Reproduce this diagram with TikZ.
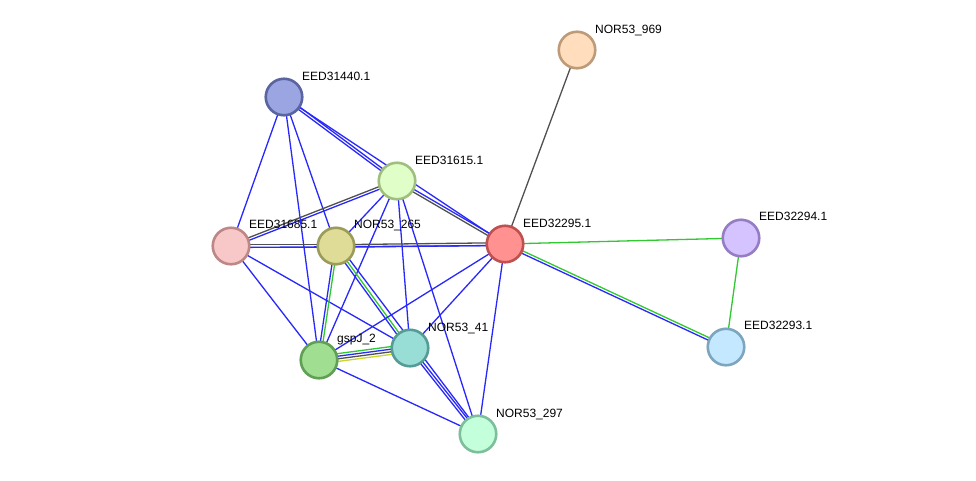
\documentclass[tikz,border=0pt]{standalone}
\usepackage{fontspec}
\setmainfont{Liberation Sans}
\usetikzlibrary{calc,backgrounds}
\definecolor{eblue}{RGB}{40,40,250}
\definecolor{egray}{RGB}{80,80,80}
\definecolor{egreen}{RGB}{50,200,50}
\definecolor{eyellow}{RGB}{200,215,40}
\newcommand{\lnk}[4]{\draw[#4] ($(#1)!#3!90:(#2)$) -- ($(#2)!#3!-90:(#1)$);}
\tikzset{
  prot/.style={circle, minimum size=36.5pt, inner sep=0pt, line width=2.6pt},
  lbl/.style={anchor=base west, inner sep=0pt, font=\fontsize{12}{14}\selectfont},
  bl/.style={eblue, line width=1.3pt},
  gr/.style={egray, line width=1.3pt},
  gn/.style={egreen, line width=1.3pt},
  yl/.style={eyellow, line width=1.3pt},
}
\begin{document}
\begin{tikzpicture}[x=1pt,y=-1pt]
\useasboundingbox (0,0) rectangle (976,480);
% nodes
\node[prot, fill={rgb,255:red,255;green,221;blue,189}, draw={rgb,255:red,190;green,155;blue,120}] (n969) at (577,50) {};
\node[prot, fill={rgb,255:red,155;green,165;blue,225}, draw={rgb,255:red,90;green,100;blue,160}] (e440) at (284,97) {};
\node[prot, fill={rgb,255:red,224;green,255;blue,200}, draw={rgb,255:red,160;green,190;blue,125}] (e615) at (397,181) {};
\node[prot, fill={rgb,255:red,248;green,200;blue,200}, draw={rgb,255:red,190;green,135;blue,135}] (e685) at (231,246) {};
\node[prot, fill={rgb,255:red,222;green,220;blue,150}, draw={rgb,255:red,155;green,155;blue,90}] (n265) at (336,246) {};
\node[prot, fill={rgb,255:red,255;green,145;blue,145}, draw={rgb,255:red,190;green,80;blue,80}] (e295) at (505,244) {};
\node[prot, fill={rgb,255:red,212;green,195;blue,255}, draw={rgb,255:red,150;green,125;blue,195}] (e294) at (741,238) {};
\node[prot, fill={rgb,255:red,195;green,232;blue,255}, draw={rgb,255:red,125;green,165;blue,190}] (e293) at (726,347) {};
\node[prot, fill={rgb,255:red,160;green,222;blue,145}, draw={rgb,255:red,95;green,160;blue,85}] (gsp) at (319,360) {};
\node[prot, fill={rgb,255:red,152;green,222;blue,214}, draw={rgb,255:red,85;green,155;blue,150}] (n41) at (410,348) {};
\node[prot, fill={rgb,255:red,195;green,255;blue,218}, draw={rgb,255:red,125;green,190;blue,155}] (n297) at (478,434) {};
% labels
\node[lbl] (l969) at (595,33) {NOR53\_969};
\node[lbl] (l440) at (302,80) {EED31440.1};
\node[lbl] (l615) at (415,164) {EED31615.1};
\node[lbl] (l685) at (249,228) {EED31685.1};
\node[lbl] (l265) at (354,228) {NOR53\_265};
\node[lbl] (l295) at (523,227) {EED32295.1};
\node[lbl] (l294) at (759,220) {EED32294.1};
\node[lbl] (l293) at (744,329) {EED32293.1};
\node[lbl] (lgsp) at (337,342) {gspJ\_2};
\node[lbl] (l41) at (428,331) {NOR53\_41};
\node[lbl] (l297) at (496,417) {NOR53\_297};
% edges
\begin{pgfonlayer}{background}
\fill[white] (0,0) rectangle (976,480);
\lnk{n969}{e295}{0pt}{gr}
\lnk{e440}{e615}{1.3pt}{bl}
\lnk{e440}{e615}{-1.3pt}{bl}
\lnk{e440}{e295}{0pt}{bl}
\lnk{e440}{e685}{0pt}{bl}
\lnk{e440}{n265}{0pt}{bl}
\lnk{e440}{gsp}{0pt}{bl}
\lnk{e685}{e615}{1.3pt}{gr}
\lnk{e685}{e615}{-1.3pt}{bl}
\lnk{e615}{e295}{1.3pt}{bl}
\lnk{e615}{e295}{-1.3pt}{gr}
\lnk{e615}{n265}{0pt}{bl}
\lnk{e615}{gsp}{0pt}{bl}
\lnk{e615}{n41}{0pt}{bl}
\lnk{e615}{n297}{0pt}{bl}
\lnk{e685}{e295}{-1.5pt}{bl}
\lnk{e685}{n265}{1.3pt}{gr}
\lnk{e685}{n265}{-1.3pt}{bl}
\lnk{n265}{e295}{1.3pt}{gr}
\lnk{n265}{e295}{-1.3pt}{bl}
\lnk{e685}{gsp}{0pt}{bl}
\lnk{e685}{n41}{0pt}{bl}
\lnk{gsp}{n265}{1.3pt}{bl}
\lnk{gsp}{n265}{-1.3pt}{gn}
\lnk{n265}{n41}{0pt}{gn}
\lnk{n265}{n41}{-2.6pt}{bl}
\lnk{n265}{n297}{2.6pt}{bl}
\lnk{gsp}{n41}{3.9pt}{gn}
\lnk{gsp}{n41}{1.3pt}{bl}
\lnk{gsp}{n41}{-1.3pt}{gr}
\lnk{gsp}{n41}{-3.9pt}{yl}
\lnk{gsp}{n297}{0pt}{bl}
\lnk{gsp}{e295}{0pt}{bl}
\lnk{n41}{e295}{0pt}{bl}
\lnk{n41}{n297}{1.3pt}{bl}
\lnk{n41}{n297}{-1.3pt}{bl}
\lnk{n297}{e295}{0pt}{bl}
\lnk{e295}{e294}{0pt}{gn}
\lnk{e295}{e293}{1.3pt}{gn}
\lnk{e295}{e293}{-1.3pt}{bl}
\lnk{e294}{e293}{0pt}{gn}
\end{pgfonlayer}
\end{tikzpicture}
\end{document}
